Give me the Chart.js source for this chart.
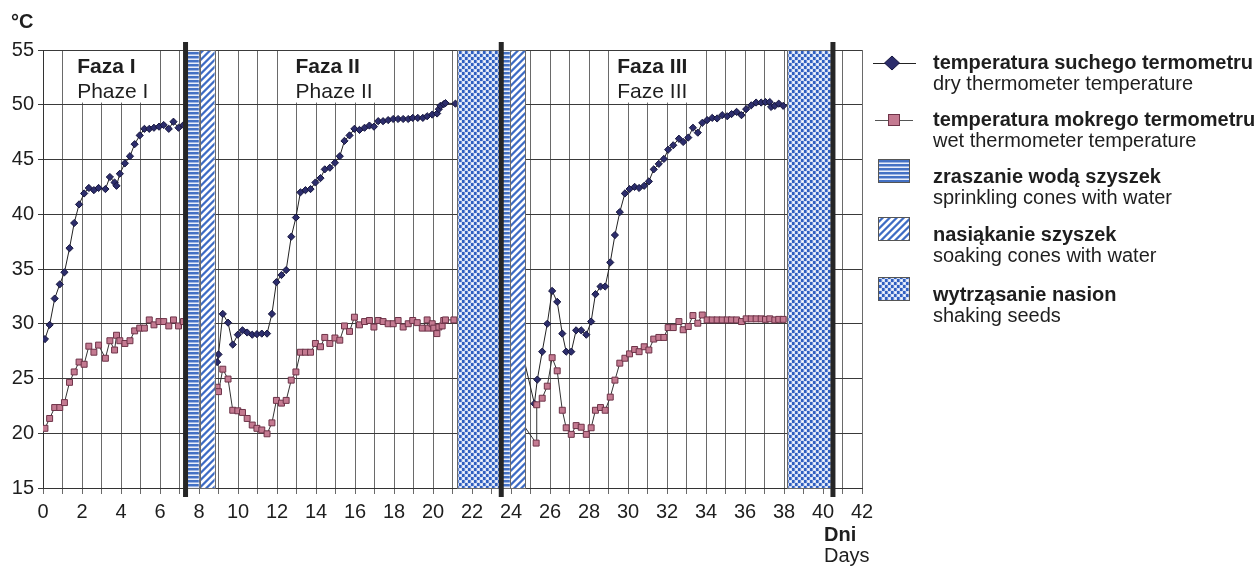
<!DOCTYPE html>
<html>
<head>
<meta charset="utf-8">
<script src="https://cdn.jsdelivr.net/npm/chart.js@4.4.1/dist/chart.umd.min.js"></script>
<style>
  body { margin: 0; background: #fff; }
  #wrap { position: relative; width: 1257px; height: 570px; font-family: "Liberation Sans", Arial, sans-serif; color: #1e1e1e; }
  #chart { position: absolute; left: 0; top: 0; }
  .lbl { position: absolute; font-size: 20px; line-height: 21px; white-space: nowrap; }
  .b { font-weight: bold; }
</style>
</head>
<body>
<div id="wrap">
  <canvas id="chart" width="1257" height="570"></canvas>
  <div class="lbl b" style="left:11px; top:11px;">°C</div>
  <div class="lbl" style="left:824px; top:524px;"><span class="b">Dni</span><br>Days</div>
  <div id="legend"></div>
</div>
<script>
// dni pomiaru i temperatury, null = przerwa w serii
const dryDays = [0.1, 0.34, 0.6, 0.86, 1.1, 1.36, 1.6, 1.85, 2.11, 2.35, 2.61, 2.85, 3.2, 3.43, 3.67, 3.77, 3.94, 4.2, 4.46, 4.7, 4.96, 5.2, 5.45, 5.69, 5.95, 6.19, 6.45, 6.69, 6.95, 7.2,
  8,
  8.93, 9.0, 9.22, 9.49, 9.73, 9.99, 10.23, 10.47, 10.73, 10.97, 11.22, 11.49, 11.74, 11.97, 12.23, 12.47, 12.73, 12.97, 13.2, 13.46, 13.72, 13.97, 14.23, 14.45, 14.71, 14.97, 15.22, 15.46, 15.72, 15.97, 16.23, 16.49, 16.74, 16.97, 17.19, 17.44, 17.7, 17.96, 18.21, 18.47, 18.73, 18.96, 19.22, 19.48, 19.7, 19.96, 20.21, 20.3, 20.38, 20.55, 20.64, 21.15,
  22,
  24.5, 25.2, 25.35, 25.6, 25.86, 26.11, 26.37, 26.63, 26.83, 27.09, 27.34, 27.6, 27.86, 28.11, 28.33, 28.59, 28.83, 29.09, 29.33, 29.58, 29.84, 30.08, 30.34, 30.57, 30.83, 31.07, 31.32, 31.58, 31.84, 32.06, 32.32, 32.61, 32.83, 33.09, 33.33, 33.58, 33.81, 34.06, 34.32, 34.57, 34.83, 35.09, 35.31, 35.57, 35.82, 36.06, 36.32, 36.57, 36.83, 37.05, 37.27, 37.34, 37.53, 37.73, 37.96];
const dryTemp = [28.6, 29.9, 32.3, 33.6, 34.7, 36.9, 39.2, 40.9, 41.9, 42.4, 42.2, 42.4, 42.3, 43.4, 42.9, 42.6, 43.7, 44.65, 45.3, 46.4, 47.2, 47.8, 47.8, 47.9, 48.0, 48.15, 47.8, 48.45, 47.9, 48.15,
  null,
  26.5, 27.2, 30.9, 30.1, 28.1, 29.0, 29.4, 29.2, 29.0, 29.05, 29.1, 29.1, 30.9, 33.8, 34.45, 34.9, 37.95, 39.7, 42.0, 42.2, 42.3, 42.9, 43.3, 44.1, 44.25, 44.7, 45.3, 46.7, 47.2, 47.8, 47.7, 47.9, 48.1, 48.0, 48.5, 48.5, 48.6, 48.7, 48.7, 48.7, 48.7, 48.8, 48.8, 48.8, 48.95, 49.1, 49.2, 49.6, 49.9, 50.05, 50.15, 50.1,
  null,
  28.0, 22.7, 24.9, 27.45, 30.0, 33.0, 32.0, 29.1, 27.45, 27.45, 29.4, 29.4, 29.0, 30.2, 32.7, 33.4, 33.4, 35.6, 38.1, 40.2, 41.9, 42.3, 42.5, 42.4, 42.6, 43.0, 44.1, 44.6, 45.05, 45.9, 46.3, 46.9, 46.6, 47.0, 47.9, 47.45, 48.35, 48.6, 48.8, 48.75, 49.05, 48.95, 49.15, 49.35, 49.05, 49.6, 49.95, 50.2, 50.2, 50.25, 50.25, 49.8, 49.9, 50.1, 49.9];

const wetDays = [0.1, 0.34, 0.6, 0.86, 1.1, 1.36, 1.6, 1.85, 2.11, 2.35, 2.61, 2.85, 3.2, 3.43, 3.67, 3.77, 3.94, 4.2, 4.46, 4.7, 4.96, 5.2, 5.45, 5.69, 5.95, 6.19, 6.45, 6.69, 6.95, 7.2,
  8,
  8.93, 9.0, 9.22, 9.49, 9.73, 9.99, 10.23, 10.47, 10.73, 10.97, 11.22, 11.49, 11.74, 11.97, 12.23, 12.47, 12.73, 12.97, 13.2, 13.46, 13.72, 13.97, 14.23, 14.45, 14.71, 14.97, 15.22, 15.46, 15.72, 15.97, 16.23, 16.49, 16.74, 16.97, 17.19, 17.44, 17.7, 17.96, 18.21, 18.47, 18.73, 18.96, 19.19, 19.45, 19.7, 19.75, 19.96, 20.04, 20.2, 20.3, 20.47, 20.55, 20.64, 21.07,
  22,
  24.5, 25.29, 25.32, 25.6, 25.86, 26.11, 26.37, 26.63, 26.83, 27.09, 27.34, 27.6, 27.86, 28.11, 28.33, 28.59, 28.83, 29.09, 29.33, 29.58, 29.84, 30.08, 30.34, 30.57, 30.83, 31.07, 31.32, 31.58, 31.84, 32.06, 32.32, 32.61, 32.83, 33.09, 33.33, 33.58, 33.81, 34.06, 34.32, 34.57, 34.83, 35.09, 35.31, 35.57, 35.82, 36.06, 36.32, 36.57, 36.83, 37.05, 37.27, 37.53, 37.73, 37.96];
const wetTemp = [20.45, 21.35, 22.35, 22.35, 22.8, 24.65, 25.6, 26.5, 26.3, 27.95, 27.4, 28.05, 26.85, 28.45, 27.6, 28.95, 28.45, 28.2, 28.45, 29.35, 29.6, 29.6, 30.35, 29.9, 30.2, 30.2, 29.8, 30.35, 29.8, 30.2,
  null,
  24.2, 23.8, 25.85, 24.95, 22.1, 22.05, 21.9, 21.35, 20.75, 20.45, 20.3, 19.95, 20.95, 23.0, 22.75, 23.0, 24.85, 25.6, 27.4, 27.4, 27.4, 28.2, 27.9, 28.75, 28.2, 28.7, 28.5, 29.8, 29.3, 30.6, 29.9, 30.2, 30.3, 29.7, 30.3, 30.2, 30.0, 30.0, 30.3, 29.7, 30.0, 30.3, 30.1, 29.6, 30.35, 29.6, 30.0, 29.6, 29.1, 29.7, 29.8, 30.3, 30.35, 30.35,
  null,
  21.1, 19.1, 22.6, 23.2, 24.3, 26.9, 25.7, 22.1, 20.5, 19.9, 20.7, 20.55, 19.9, 20.5, 22.1, 22.35, 22.1, 23.3, 24.85, 26.4, 26.85, 27.25, 27.65, 27.45, 27.9, 27.6, 28.6, 28.75, 28.75, 29.65, 29.65, 30.2, 29.45, 29.75, 30.75, 30.05, 30.8, 30.35, 30.35, 30.35, 30.35, 30.35, 30.35, 30.35, 30.2, 30.45, 30.45, 30.45, 30.45, 30.4, 30.45, 30.35, 30.4, 30.4];

// zabiegi (od - do, w dniach)
const sprinkleStart = [7.39, 23.55];
const sprinkleEnd = [7.99, 23.94];
const soakStart = [8.04, 23.97];
const soakEnd = [8.8, 24.75];
const shakeStart = [21.24, 38.16];
const shakeEnd = [23.45, 40.47];
const phaseDividers = [7.31, 23.5, 40.51];

const phaseTitles = ["Faza I", "Faza II", "Faza III"];
const phaseSubtitles = ["Phaze I", "Phaze II", "Faze III"];
const phaseX = [1.75, 12.95, 29.45];

const legendTitles = ["temperatura suchego termometru", "temperatura mokrego termometru", "zraszanie wodą szyszek", "nasiąkanie szyszek", "wytrząsanie nasion"];
const legendSubtitles = ["dry thermometer temperature", "wet thermometer temperature", "sprinkling cones with water", "soaking cones with water", "shaking seeds"];
const legendRowY = [63, 120, 177, 235, 295];

const FONT = '"Liberation Sans", Arial, sans-serif';

// legenda (tekst w HTML)
const legendDiv = document.getElementById("legend");
legendTitles.forEach((t, i) => {
  const d = document.createElement("div");
  d.className = "lbl";
  d.style.left = "933px";
  d.style.top = (legendRowY[i] - 11) + "px";
  d.innerHTML = '<span class="b">' + t + '</span><br>' + legendSubtitles[i];
  legendDiv.appendChild(d);
});

function makePattern(ctx, kind) {
  const c = document.createElement("canvas");
  const g = c.getContext("2d");
  if (kind === "stripes") {
    c.width = 4; c.height = 4;
    g.fillStyle = "#e9eef9"; g.fillRect(0, 0, 4, 4);
    g.fillStyle = "#4471c4"; g.fillRect(0, 0, 4, 2);
    g.fillStyle = "#9db4e3"; g.fillRect(0, 2, 4, 1);
  } else if (kind === "diagonal") {
    c.width = 7; c.height = 7;
    for (let px = 0; px < 7; px++) {
      for (let py = 0; py < 7; py++) {
        const k = (px + py) % 7;
        g.fillStyle = k < 2 ? "#3e6cc3" : (k === 2 || k === 6 ? "#8ea8df" : "#ffffff");
        g.fillRect(px, py, 1, 1);
      }
    }
  } else {
    c.width = 6; c.height = 6;
    g.fillStyle = "#d2ddf3"; g.fillRect(0, 0, 6, 6);
    g.fillStyle = "#2f5fc0"; g.fillRect(0, 0, 3, 3); g.fillRect(3, 3, 3, 3);
    g.fillStyle = "#6f8fd6"; g.fillRect(2, 0, 1, 3); g.fillRect(5, 3, 1, 3);
    g.fillStyle = "#ffffff"; g.fillRect(4, 1, 1, 1); g.fillRect(1, 4, 1, 1);
  }
  return ctx.createPattern(c, "repeat");
}

const overlay = {
  id: "overlay",
  beforeDatasetsDraw(chart) {
    const { ctx, scales: { x, y } } = chart;
    ctx.save();
    const top = y.getPixelForValue(55) + 1;
    const bottom = y.getPixelForValue(50.2);
    phaseX.forEach((d, i) => {
      const left = x.getPixelForValue(d);
      ctx.font = "bold 21px " + FONT;
      const w1 = ctx.measureText(phaseTitles[i]).width;
      ctx.font = "21px " + FONT;
      const w2 = ctx.measureText(phaseSubtitles[i]).width;
      ctx.fillStyle = "#fff";
      ctx.fillRect(left - 8, top, Math.max(w1, w2) + 15, bottom - top);
      ctx.fillStyle = "#1e1e1e";
      ctx.font = "bold 21px " + FONT;
      ctx.fillText(phaseTitles[i], left, top + 22);
      ctx.font = "21px " + FONT;
      ctx.fillText(phaseSubtitles[i], left, top + 47);
    });
    ctx.restore();
  },
  afterDatasetsDraw(chart) {
    const { ctx, scales: { x, y }, chartArea } = chart;
    const pats = {
      stripes: makePattern(ctx, "stripes"),
      diagonal: makePattern(ctx, "diagonal"),
      checker: makePattern(ctx, "checker")
    };
    const top = y.getPixelForValue(55);
    const bottom = y.getPixelForValue(15);
    ctx.save();
    function bar(s, e, pat) {
      const l = x.getPixelForValue(s), r = x.getPixelForValue(e);
      ctx.fillStyle = pat;
      ctx.fillRect(l, top, r - l, bottom - top);
      ctx.strokeStyle = "#6a6a6a";
      ctx.lineWidth = 1;
      ctx.strokeRect(Math.round(l) + 0.5, Math.round(top) + 0.5, Math.round(r - l), Math.round(bottom - top));
    }
    sprinkleStart.forEach((s, i) => bar(s, sprinkleEnd[i], pats.stripes));
    soakStart.forEach((s, i) => bar(s, soakEnd[i], pats.diagonal));
    shakeStart.forEach((s, i) => bar(s, shakeEnd[i], pats.checker));

    // grube linie podziału faz
    ctx.strokeStyle = "#262626";
    ctx.lineWidth = 5;
    phaseDividers.forEach(d => {
      const px = x.getPixelForValue(d);
      ctx.beginPath();
      ctx.moveTo(px, chartArea.top - 8);
      ctx.lineTo(px, chartArea.bottom + 9);
      ctx.stroke();
    });
    ctx.restore();
  },
  afterDraw(chart) {
    const { ctx } = chart;
    const pats = {
      stripes: makePattern(ctx, "stripes"),
      diagonal: makePattern(ctx, "diagonal"),
      checker: makePattern(ctx, "checker")
    };
    ctx.save();
    // ikony legendy
    ctx.strokeStyle = "#222"; ctx.lineWidth = 1;
    ctx.beginPath(); ctx.moveTo(873, legendRowY[0] + 0.5); ctx.lineTo(916, legendRowY[0] + 0.5); ctx.stroke();
    ctx.fillStyle = "#2c2d6c"; ctx.strokeStyle = "#15153d";
    ctx.beginPath();
    ctx.moveTo(892, legendRowY[0] - 7); ctx.lineTo(899.5, legendRowY[0]); ctx.lineTo(892, legendRowY[0] + 7); ctx.lineTo(884.5, legendRowY[0]);
    ctx.closePath(); ctx.fill(); ctx.stroke();

    ctx.strokeStyle = "#555";
    ctx.beginPath(); ctx.moveTo(875, legendRowY[1] + 0.5); ctx.lineTo(913, legendRowY[1] + 0.5); ctx.stroke();
    ctx.fillStyle = "#c47a91"; ctx.strokeStyle = "#6e3348";
    ctx.fillRect(888, legendRowY[1] - 6, 12, 12);
    ctx.strokeRect(888.5, legendRowY[1] - 5.5, 11, 11);

    [pats.stripes, pats.diagonal, pats.checker].forEach((p, i) => {
      const cy = legendRowY[i + 2] - 6;
      ctx.fillStyle = p;
      ctx.fillRect(878, cy - 12, 32, 24);
      ctx.strokeStyle = "#555";
      ctx.strokeRect(878.5, cy - 11.5, 31, 23);
    });
    ctx.restore();
  }
};

const dryData = dryDays.map((d, i) => ({ x: d, y: dryTemp[i] }));
const wetData = wetDays.map((d, i) => ({ x: d, y: wetTemp[i] }));

new Chart(document.getElementById("chart"), {
  type: "scatter",
  data: {
    datasets: [
      {
        label: "temperatura mokrego termometru",
        data: wetData,
        showLine: true,
        spanGaps: false,
        borderColor: "#333",
        borderWidth: 1,
        pointStyle: "rect",
        pointRadius: 4.2,
        pointBackgroundColor: "#c47a91",
        pointBorderColor: "#6e3348",
        pointBorderWidth: 1
      },
      {
        label: "temperatura suchego termometru",
        data: dryData,
        showLine: true,
        spanGaps: false,
        borderColor: "#222",
        borderWidth: 1,
        pointStyle: "rectRot",
        pointRadius: 3.6,
        pointBackgroundColor: "#2c2d6c",
        pointBorderColor: "#15153d",
        pointBorderWidth: 1
      }
    ]
  },
  options: {
    responsive: false,
    animation: false,
    devicePixelRatio: 1,
    layout: { padding: { left: 0, top: 50, right: 395, bottom: 48 } },
    plugins: { legend: { display: false }, tooltip: { enabled: false } },
    scales: {
      x: {
        type: "linear",
        min: 0,
        max: 42,
        afterFit: s => { s.height = 34; },
        ticks: {
          stepSize: 1,
          autoSkip: false,
          maxRotation: 0,
          padding: 6,
          color: "#1e1e1e",
          font: { family: FONT, size: 20 },
          callback: v => (v % 2 === 0 ? String(v) : "")
        },
        grid: { color: "#6a6a6a", lineWidth: 1, tickLength: 6 },
        border: { color: "#333", width: 1 }
      },
      y: {
        min: 15,
        max: 55,
        afterFit: s => { s.width = 43; },
        ticks: {
          stepSize: 5,
          padding: 4,
          color: "#1e1e1e",
          font: { family: FONT, size: 20 }
        },
        grid: { color: "#3a3a3a", lineWidth: 1, tickLength: 5 },
        border: { color: "#333", width: 1 }
      }
    }
  },
  plugins: [overlay]
});
</script>
</body>
</html>
